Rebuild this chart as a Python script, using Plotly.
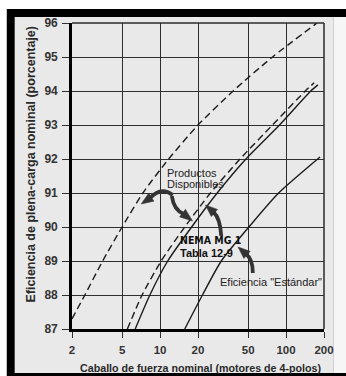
import math
import plotly.graph_objects as go

# ---------------- data ----------------
x_ticks = [2, 5, 10, 20, 50, 100, 200]
y_ticks = [87, 88, 89, 90, 91, 92, 93, 94, 95, 96]

# Productos disponibles (upper dashed)
prod_top_hp = [2, 2.53, 3.5, 5.0, 7.3, 11.7, 20, 38, 78, 176]
prod_top_eff = [87.3, 88, 89, 90, 91, 92, 93, 94, 95, 96]

# Productos disponibles (lower dashed)
prod_low_hp = [5.5, 7.2, 10.2, 15.7, 25.1, 43.1, 78, 142, 167]
prod_low_eff = [87, 88, 89, 90, 91, 92, 93, 94, 94.24]

# NEMA MG 1 Tabla 12-9 (solid)
nema_hp = [6.35, 8.3, 11.5, 17.8, 28.4, 48, 88.7, 157, 179]
nema_eff = [87, 88, 89, 90, 91, 92, 93, 94, 94.18]

# Eficiencia "Estándar" (solid)
std_hp = [15.7, 21.7, 30.6, 50.7, 87.2, 186]
std_eff = [87, 88, 89, 90, 91, 92.06]

# ---------------- geometry ----------------
W, H = 346, 376
ML, MR, MT, MB = 72, 19, 23, 47
PW, PH = W - ML - MR, H - MT - MB


def pxx(x):
    return (x - ML) / PW


def pxy(y):
    return (H - MB - y) / PH


FONT = "Liberation Sans, Arial, Helvetica, sans-serif"
NARROW = "DejaVu Sans Condensed, Liberation Sans Narrow, Arial Narrow, Liberation Sans, sans-serif"
INK = "#1c1c1c"

fig = go.Figure()

def add_curve(xs, ys, dashed):
    fig.add_trace(go.Scatter(
        x=xs, y=ys, mode="lines",
        line=dict(color=INK, width=1.4, shape="spline", smoothing=0.6,
                  dash="7px,4px" if dashed else "solid"),
        hoverinfo="skip", showlegend=False))

add_curve(prod_top_hp, prod_top_eff, True)
add_curve(prod_low_hp, prod_low_eff, True)
add_curve(nema_hp, nema_eff, False)
add_curve(std_hp, std_eff, False)

shapes = []
# frame / background
shapes.append(dict(type="rect", xref="paper", yref="paper", layer="below",
                   x0=pxx(6), x1=pxx(352), y0=pxy(382), y1=pxy(9),
                   fillcolor="#000000", line=dict(width=0)))
shapes.append(dict(type="rect", xref="paper", yref="paper", layer="below",
                   x0=pxx(14), x1=pxx(337), y0=pxy(373), y1=pxy(17),
                   fillcolor="#e9e9e9", line=dict(width=0)))
shapes.append(dict(type="rect", xref="paper", yref="paper", layer="below",
                   x0=pxx(337), x1=pxx(352), y0=pxy(373), y1=pxy(17),
                   fillcolor="#f6f6f6", line=dict(width=0)))
# top and right edges of the plot box
shapes.append(dict(type="line", xref="paper", yref="paper", x0=0, x1=1, y0=1, y1=1,
                   line=dict(color="#2a2a2a", width=1.5)))
shapes.append(dict(type="line", xref="paper", yref="paper", x0=1, x1=1, y0=0, y1=1,
                   line=dict(color="#2a2a2a", width=1.5)))


def arrow(p0, c, p1, tip, w=4.8):
    path = "M %.4f %.4f Q %.4f %.4f %.4f %.4f" % (
        pxx(p0[0]), pxy(p0[1]), pxx(c[0]), pxy(c[1]), pxx(p1[0]), pxy(p1[1]))
    shapes.append(dict(type="path", xref="paper", yref="paper", path=path,
                       line=dict(color="#333333", width=3.8)))
    dx, dy = tip[0] - p1[0], tip[1] - p1[1]
    ln = math.hypot(dx, dy)
    nx, ny = -dy / ln, dx / ln
    bx, by = p1[0] - dx / ln * 1.5, p1[1] - dy / ln * 1.5
    a = (bx + nx * w, by + ny * w)
    b = (bx - nx * w, by - ny * w)
    hp = "M %.4f %.4f L %.4f %.4f L %.4f %.4f Z" % (
        pxx(tip[0]), pxy(tip[1]), pxx(a[0]), pxy(a[1]), pxx(b[0]), pxy(b[1]))
    shapes.append(dict(type="path", xref="paper", yref="paper", path=hp,
                       fillcolor="#333333", line=dict(color="#333333", width=0.5)))


arrow((174, 195), (162, 186), (151, 198), (142, 204))
arrow((173, 196), (175, 210), (185, 214), (194, 221))
arrow((223, 236), (222, 218), (215, 212), (207, 205))
arrow((255, 273), (255, 259), (248, 254), (240, 247))

annotations = []

def text(s, x, y, size, bold=False, anchor="center", family=FONT, color="#222222"):
    annotations.append(dict(text=s, xref="paper", yref="paper", x=pxx(x), y=pxy(y),
                            xanchor=anchor, yanchor="middle", showarrow=False,
                            borderpad=0,
                            font=dict(family=family, size=size, color=color,
                                      weight="bold" if bold else "normal")))

text("Productos", 167, 173, 11, anchor="left")
text("Disponibles", 167, 184, 11, anchor="left")
text("NEMA MG 1", 212, 240, 10.5, bold=True, family=NARROW, color="#111111")
text("Tabla 12-9", 208, 253, 11, bold=True, color="#111111")
text("Eficiencia \"Estándar\"", 273.5, 282, 11)

# axis titles
annotations.append(dict(text="Caballo de fuerza nominal (motores de 4-polos)",
                        xref="paper", yref="paper", x=pxx(202.5), y=pxy(368),
                        xanchor="center", yanchor="middle", showarrow=False,
                        font=dict(family=FONT, size=10.7, color="#2a2a2a", weight="bold")))
annotations.append(dict(text="Eficiencia de plena-carga nominal (porcentaje)",
                        xref="paper", yref="paper", x=pxx(31), y=pxy(164),
                        xanchor="center", yanchor="middle", showarrow=False, textangle=-90,
                        font=dict(family=FONT, size=12.5, color="#2a2a2a", weight="bold")))

fig.update_layout(
    width=W, height=H,
    margin=dict(l=ML, r=MR, t=MT, b=MB, pad=0),
    paper_bgcolor="#ffffff",
    plot_bgcolor="rgba(0,0,0,0)",
    showlegend=False,
    shapes=shapes,
    annotations=annotations,
)

fig.update_xaxes(
    type="log", range=[math.log10(2), math.log10(200)],
    tickmode="array", tickvals=x_ticks, ticktext=[str(v) for v in x_ticks],
    showgrid=True, gridcolor="#2f2f2f", gridwidth=1.3,
    ticks="outside", ticklen=6, tickwidth=1.3, tickcolor="#2f2f2f",
    showline=True, linecolor="#000000", linewidth=2.6,
    zeroline=False, ticklabelstandoff=2,
    tickfont=dict(family=FONT, size=11.5, color="#333333", weight="bold"),
)
fig.update_yaxes(
    range=[87, 96],
    tickmode="array", tickvals=y_ticks, ticktext=[str(v) for v in y_ticks],
    showgrid=True, gridcolor="#2f2f2f", gridwidth=1.3,
    ticks="outside", ticklen=7, tickwidth=1.3, tickcolor="#2f2f2f",
    showline=True, linecolor="#000000", linewidth=2.6,
    zeroline=False, ticklabelstandoff=2,
    tickfont=dict(family=FONT, size=12, color="#333333", weight="bold"),
)

fig.write_html("out.html")
